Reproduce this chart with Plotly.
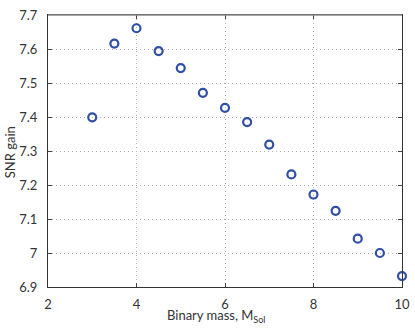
import plotly.graph_objects as go

# binary mass (solar masses) and SNR gain
mass = [3, 3.5, 4, 4.5, 5, 5.5, 6, 6.5, 7, 7.5, 8, 8.5, 9, 9.5, 10]
snr_gain = [7.399, 7.616, 7.661, 7.594, 7.544, 7.471, 7.427, 7.385,
            7.319, 7.231, 7.172, 7.124, 7.042, 7.0, 6.932]

x_ticks = [2, 4, 6, 8, 10]
y_ticks = [6.9, 7.0, 7.1, 7.2, 7.3, 7.4, 7.5, 7.6, 7.7]
y_tick_text = ['6.9', '7', '7.1', '7.2', '7.3', '7.4', '7.5', '7.6', '7.7']

fig = go.Figure()

fig.add_trace(go.Scatter(
    x=mass, y=snr_gain,
    mode='markers',
    marker=dict(symbol='circle-open', size=8, color='#2f4ea5',
                line=dict(width=2.2, color='#2f4ea5')),
    showlegend=False,
    cliponaxis=False
))

axis_common = dict(
    showline=True, linecolor='#333333', linewidth=1.2, mirror='ticks',
    ticks='inside', ticklen=4, tickcolor='#444444',
    showgrid=True, gridcolor='#b0b0b0', griddash='1px,3px', gridwidth=1,
    minor=dict(showgrid=False),
    zeroline=False, automargin=False,
    tickfont=dict(size=13, color='#333333'),
)

fig.update_layout(
    width=415, height=331,
    margin=dict(l=48, r=13, t=15, b=44),
    paper_bgcolor='white',
    plot_bgcolor='white',
    font=dict(family='Lato, Open Sans, sans-serif', size=13, color='#333333'),
    xaxis=dict(range=[2, 10], tickvals=x_ticks, ticklabelstandoff=5,
               **axis_common),
    yaxis=dict(range=[6.9, 7.7], tickvals=y_ticks, ticktext=y_tick_text,
               ticklabelstandoff=7, **axis_common),
)

# axis titles placed to match the original
fig.add_annotation(text='Binary mass, M<sub>Sol</sub>', xref='paper', yref='paper',
                   x=0.475, y=-0.108, showarrow=False,
                   xanchor='center', yanchor='middle', font=dict(size=13))
fig.add_annotation(text='SNR gain', xref='paper', yref='paper',
                   x=-0.107, y=0.496, showarrow=False, textangle=-90,
                   xanchor='center', yanchor='middle', font=dict(size=13))

# top border is drawn lighter in the original
fig.add_shape(type='line', xref='paper', yref='paper', x0=0, x1=1, y0=1, y1=1,
              line=dict(color='#8a8a8a', width=1.5))

# drop the page's default body margin so the figure sits at the window's corner
fig.write_html("out.html", config={'displayModeBar': False},
               post_script="document.body.style.margin='0';")
